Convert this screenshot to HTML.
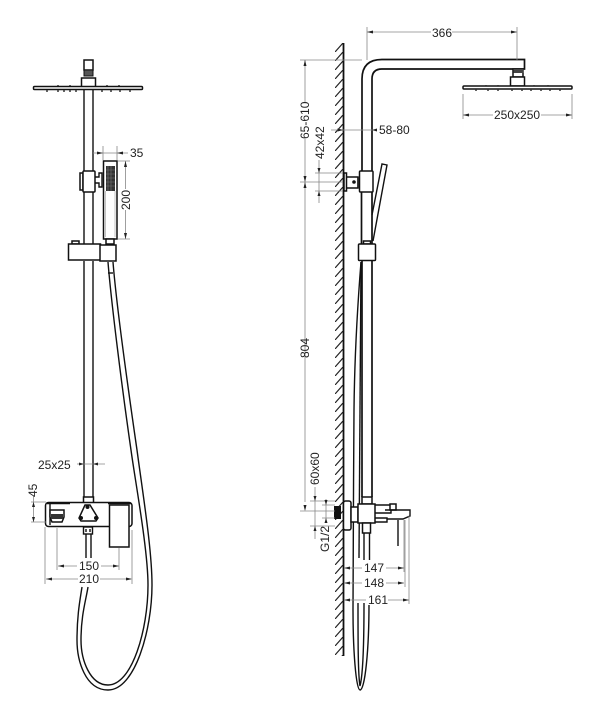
<!DOCTYPE html>
<html><head><meta charset="utf-8"><style>
html,body{margin:0;padding:0;background:#fff;width:601px;height:720px;overflow:hidden}
svg{display:block}
text{font-family:"Liberation Sans",sans-serif;font-size:12px;fill:#222}
.k{fill:none;stroke:#111;stroke-width:1.4}
.w{fill:#fff;stroke:#111;stroke-width:1.5}
.t{fill:none;stroke:#111;stroke-width:1.7}
.d{fill:none;stroke:#888;stroke-width:.8}
.a{fill:#222;stroke:none}
</style></head><body>
<svg width="601" height="720" viewBox="0 0 601 720">
<defs><pattern id="hp" patternUnits="userSpaceOnUse" x="335" y="43" width="8" height="9"><path d="M0 9L8 0" stroke="#222" stroke-width="1.200"/></pattern></defs>
<!-- LEFT VIEW -->
<rect class="w" x="84" y="60" width="9" height="10"/>
<rect x="84" y="70" width="9" height="6" fill="#555" stroke="#111"/>
<rect class="w" x="81.500" y="78" width="14" height="9"/>
<rect class="w" x="33.500" y="86.500" width="109" height="3" rx="1"/>
<path d="M47 90v2M58 90v2M64 90v2M70 90v2M76 90v2M102 90v2M111 90v2M120 90v2M130 90v2M58 86v-1M70 86v-1M107 86v-1M119 86v-1" stroke="#333" stroke-width="1.500"/>
<path class="k" d="M84 90V171M93 90V171M84 192V244M93 192V244M84 261V497M93 261V497"/>
<rect class="w" x="80" y="173" width="3" height="17"/>
<rect class="w" x="83" y="171" width="12" height="21" rx="1"/>
<path class="k" d="M95 177h4v-4h3v14h-3v-4h-4"/>
<rect class="w" x="103.500" y="161" width="13.500" height="78" stroke-width="1.800"/>
<rect x="106" y="166" width="9" height="25" fill="#333"/>
<path d="M108 166v25M111 166v25M106 170h9M106 174h9M106 178h9M106 182h9M106 186h9" stroke="#777" stroke-width=".6"/>
<path d="M105.500 191V237M115 191V237" stroke="#aaa" stroke-width=".7"/>
<rect class="w" x="106" y="239" width="8" height="5"/>
<rect class="w" x="72" y="241" width="7" height="3"/>
<rect x="68.500" y="244" width="32" height="16" class="w" stroke-width="1.800"/>
<rect x="100" y="245" width="16" height="16" class="w" stroke-width="1.800"/>
<!-- left hose -->
<path class="k" d="M113 262C116 300 128 388 137 450C143 495 152 550 152 585C152 630 135 690 108 690C85 690 77 660 77 640C77 615 80 600 82 587"/>
<path class="k" d="M108 262C111 300 122 388 131 450C135 480 148 550 148 585C148 630 132 685 108 685C90 685 81 660 81 640C81 615 86 600 88 587"/>
<path class="k" d="M108 273H113" stroke-width="1"/>
<!-- left mixer -->
<rect class="w" x="83.500" y="497" width="10" height="7" stroke="#333"/>
<rect class="w" x="45.500" y="502.500" width="86.500" height="24" rx="3" stroke-width="1.400"/>
<path class="k" d="M50 504v21" stroke-width="1"/>
<path class="k" d="M47 503.500h23M108 503.500h23" stroke-width="2.200"/>
<path d="M50 510h14v7l-2 5H52l-2-5z" fill="#fff" stroke="#111" stroke-width="1.500"/>
<rect x="51" y="514" width="12" height="5" fill="#333"/>
<path class="w" d="M85 505h5l8 13-2 3H81l-2-3z" stroke-width="1.500"/>
<circle cx="87.500" cy="507" r="2" fill="#111"/><circle cx="81" cy="518" r="2" fill="#111"/><circle cx="96" cy="518" r="2" fill="#111"/>
<rect class="w" x="109.500" y="505" width="19.500" height="42" stroke-width="1.600"/>
<rect class="k" x="83.500" y="527" width="9" height="7" stroke-width="1.500"/>
<path class="k" d="M86 534V558M91 534V558M86 529v3M90 529v3"/>
<!-- left dims -->
<path class="d" d="M93 153H128M103 146v14M117 146v14"/>
<path class="a" d="M103 153l-6-1.500v3zM117 153l6-1.500v3z"/>
<path class="d" d="M118 161H130M118 239H130M125.500 161V189M125.500 210V239"/>
<path class="a" d="M125.500 161l-1.500 6h3zM125.500 239l-1.500-6h3z"/>
<path class="d" d="M77 464H105"/>
<path class="a" d="M84 464l-5-1.500v3zM93 464l5-1.500v3z"/>
<path class="d" d="M31 502H46M31 522H46M33.500 496V522"/>
<path class="a" d="M33.500 502l-1.500 5h3zM33.500 522l-1.500-5h3z"/>
<path class="d" d="M57 528V570M119 548V570M45 527V584M132 530V584M58 566H77M101 566H119M46 579H78M100 579H131"/>
<path class="a" d="M58 566l6-1.500v3zM119 566l-6-1.500v3zM46 579l6-1.500v3zM132 579l-6-1.500v3z"/>
<text x="130" y="157">35</text>
<text transform="translate(130,210) rotate(-90)">200</text>
<text x="38" y="469">25x25</text>
<text transform="translate(37,497) rotate(-90)">45</text>
<text x="79" y="570">150</text>
<text x="79" y="583">210</text>
<!-- RIGHT VIEW wall -->
<rect x="335" y="43" width="8" height="613" fill="url(#hp)"/>
<path d="M343.500 43V656" stroke="#111" stroke-width="1.800"/>
<!-- right pipe -->
<path class="t" d="M362 171V79Q362 59.500 382 59.500H524.500V69H382Q372 69 372 79V171"/>
<rect class="w" x="513" y="69" width="10" height="8" stroke-width="1.500"/>
<rect x="513.500" y="69" width="10" height="4" fill="#444"/>
<rect class="w" x="510.500" y="77" width="14" height="9" stroke-width="1.200"/>
<rect class="w" x="463" y="86" width="109" height="3" rx="1" stroke-width="1.200"/>
<path d="M476 89v2M488 89v2M498 89v2M512 89v2M522 89v2M531 89v2M541 89v2M550 89v2M560 89v2M486 86v-1M498 86v-1M534 86v-1M548 86v-1" stroke="#333" stroke-width="1.500"/>
<!-- wall mount -->
<rect class="w" x="344" y="173" width="2.500" height="18" stroke-width="1.500"/>
<path class="k" d="M347 177H358V188H347"/>
<circle cx="354" cy="182" r="1.800" fill="#111"/><path class="k" d="M358 177v11" stroke-width="1.500"/>
<rect class="w" x="359.500" y="171" width="13.500" height="21" rx="1" stroke-width="1.800"/>
<!-- right handset -->
<path class="k" d="M372 215L382 164L387 165L373 241"/>
<rect class="w" x="363.500" y="241" width="7" height="3"/>
<path class="t" d="M361.500 192V244M372 192V244M362 261V497M372 261V497"/>
<rect class="w" x="358.500" y="244" width="17" height="16.500" rx="1" stroke-width="1.800"/>
<!-- right hose -->
<path class="k" d="M361 262C358 300 354.500 360 354 410C353.500 480 353 590 353 610C353 650 356 690 360 690C365 690 369 650 369 604"/>
<path class="k" d="M361 262C360.500 340 359.500 440 359 558"/>
<path class="k" d="M358 603C358 640 358 675 360 686C363 675 364 640 364 603" stroke-width="1.200"/>
<!-- right mixer -->
<rect class="w" x="362" y="497" width="10" height="7" stroke-width="1.500"/>
<rect x="334" y="506" width="7" height="13" fill="#111"/>
<rect class="w" x="343.500" y="501" width="7.500" height="29" rx="2" stroke-width="1.800"/>
<rect class="w" x="351" y="507" width="7" height="15" stroke-width="1.500"/>
<rect class="w" x="358" y="504" width="17" height="19" stroke-width="1.900"/>
<path class="k" d="M375 505H391V513H375M375 518H387V522H375" stroke-width="1.400"/>
<path class="w" d="M390 504H396V510H390Z" stroke-width="1.500"/>
<path class="k" d="M385 510H410V516L403 519L387 519" stroke-width="1.700"/>
<path class="k" d="M398 520V546" stroke-width="1.900"/>
<rect class="w" x="362.500" y="523" width="8" height="10" stroke-width="1.500"/>
<path class="k" d="M364 533V560M369.500 533V560"/>
<!-- right dims -->
<path class="d" d="M367 27V60M517 27V60M367 32H431M452 32H517"/>
<path class="a" d="M367 32l6-1.500v3zM517 32l-6-1.500v3z"/>
<path class="d" d="M300 60H362M305 60V103M305 139V502M300 182H343M300 511H335"/>
<path class="a" d="M305 60l-1.500 6h3zM305 182l-1.500-6h3zM305 182l-1.500 6h3zM305 511l-1.500-6h3z"/>
<path class="d" d="M463 94V119M572 94V119M463 115H493M541 115H572"/>
<path class="a" d="M463 115l6-1.500v3zM572 115l-6-1.500v3z"/>
<path class="d" d="M331 130H376"/>
<path class="a" d="M343.500 130l-6-1.500v3zM372 130l5-1.500v3z"/>
<path class="d" d="M315 173H343M315 191H343M319 160V203"/>
<path class="a" d="M319 173l-1.500-5h3zM319 191l-1.500 5h3z"/>
<path class="d" d="M310 501H335M310 526H335M315 487V539M326 499V522M322 505H335M322 518H335"/>
<path class="a" d="M315 501l-1.500-5h3zM315 526l-1.500 5h3zM326 505l-1.500-5h3zM326 518l-1.500 5h3z"/>
<path class="d" d="M344 568H362M386 568H404M344 583H362M386 583H404M344 600H366M388 600H409M404 520V572M405 520V587M409 516V604"/>
<path class="a" d="M344 568l6-1.500v3zM404 568l-6-1.500v3zM344 583l6-1.500v3zM404 583l-6-1.500v3zM344 600l6-1.500v3zM409 600l-6-1.500v3z"/>
<text x="432" y="37">366</text>
<text x="494" y="119">250x250</text>
<text x="379" y="134">58-80</text>
<text transform="translate(309,139) rotate(-90)">65-610</text>
<text transform="translate(324,159) rotate(-90)">42x42</text>
<text transform="translate(309,358) rotate(-90)">804</text>
<text transform="translate(319,485) rotate(-90)">60x60</text>
<text transform="translate(329,552) rotate(-90)">G1/2</text>
<rect x="363" y="562" width="23" height="11" fill="#fff"/>
<rect x="363" y="577" width="23" height="11" fill="#fff"/>
<rect x="367" y="594" width="21" height="11" fill="#fff"/>
<text x="364" y="572">147</text>
<text x="364" y="587">148</text>
<text x="368" y="604">161</text>
</svg>
</body></html>
